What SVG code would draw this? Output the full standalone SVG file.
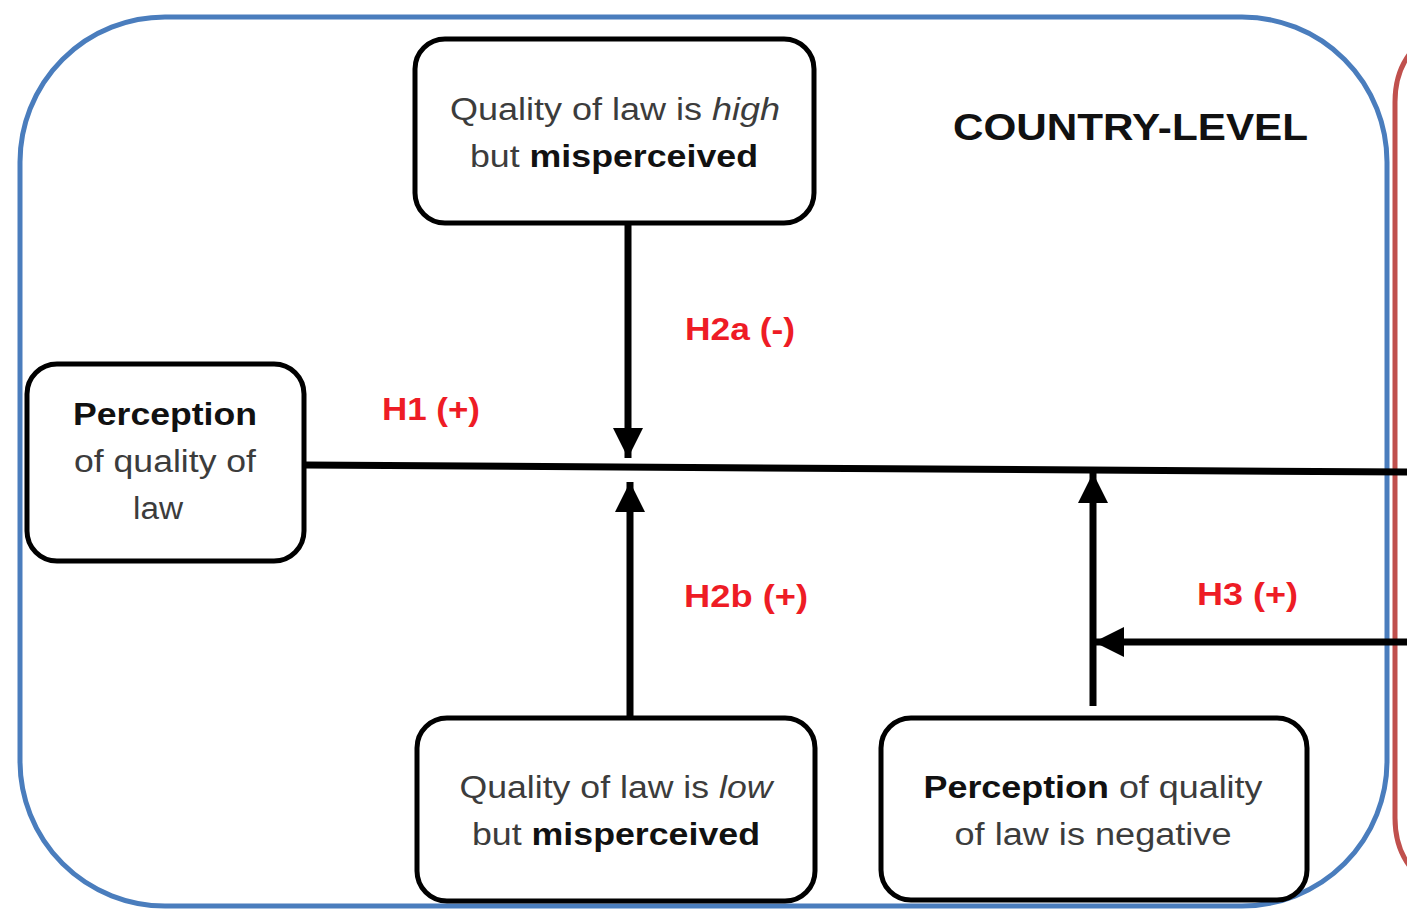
<svg xmlns="http://www.w3.org/2000/svg" width="1407" height="909" viewBox="0 0 1407 909">
<style>
.frame-blue{fill:none;stroke:#4a7dbd;stroke-width:5}
.frame-red{fill:none;stroke:#c0504d;stroke-width:5}
.box{fill:#fff;stroke:#000;stroke-width:5}
.t{font-family:"Liberation Sans",Arial,sans-serif;font-size:31px;fill:#3c3c3c;text-anchor:middle}
.b{font-weight:bold;fill:#111}
.i{font-style:italic}
.lab{font-family:"Liberation Sans",Arial,sans-serif;font-size:32px;font-weight:bold;fill:#ee1c25}
.title{font-family:"Liberation Sans",Arial,sans-serif;font-size:37px;font-weight:bold;fill:#111}
.con{fill:none;stroke:#000;stroke-width:7}
</style>
<defs>
<marker id="ah" markerUnits="userSpaceOnUse" markerWidth="30" markerHeight="30" viewBox="0 0 30 30" refX="30" refY="15" orient="auto">
<path d="M0,0 L30,15 L0,30 Z" fill="#000"/>
</marker>
</defs>
<rect width="1407" height="909" fill="#fff"/>
<rect id="country-frame" class="frame-blue" x="20" y="17" width="1367" height="889" rx="145" ry="145"/>
<rect id="individual-frame" class="frame-red" x="1395" y="40" width="80" height="840" rx="62" ry="62"/>
<g id="connectors">
<line class="con" x1="305" y1="465" x2="1407" y2="472"/>
<line class="con" x1="628" y1="223" x2="628" y2="458" marker-end="url(#ah)"/>
<line class="con" x1="630" y1="717" x2="630" y2="482" marker-end="url(#ah)"/>
<line class="con" x1="1093" y1="706" x2="1093" y2="473" marker-end="url(#ah)"/>
<line class="con" x1="1407" y1="642" x2="1094" y2="642" marker-end="url(#ah)"/>
</g>
<g id="node-perception">
<rect class="box" x="27" y="364" width="277" height="197" rx="30" ry="30"/>
<text class="t b" x="165" y="425" textLength="184" lengthAdjust="spacingAndGlyphs">Perception</text>
<text class="t" x="165" y="472" textLength="182" lengthAdjust="spacingAndGlyphs">of quality of</text>
<text class="t" x="158" y="519" textLength="50" lengthAdjust="spacingAndGlyphs">law</text>
</g>
<g id="node-high">
<rect class="box" x="415" y="39" width="399" height="184" rx="30" ry="30"/>
<text class="t" x="615" y="120" textLength="330" lengthAdjust="spacingAndGlyphs">Quality of law is <tspan class="i">high</tspan></text>
<text class="t" x="614" y="167" textLength="288" lengthAdjust="spacingAndGlyphs">but <tspan class="b">misperceived</tspan></text>
</g>
<g id="node-low">
<rect class="box" x="417" y="718" width="398" height="183" rx="30" ry="30"/>
<text class="t" x="616" y="798" textLength="313" lengthAdjust="spacingAndGlyphs">Quality of law is <tspan class="i">low</tspan></text>
<text class="t" x="616" y="845" textLength="288" lengthAdjust="spacingAndGlyphs">but <tspan class="b">misperceived</tspan></text>
</g>
<g id="node-negative">
<rect class="box" x="881" y="718" width="426" height="182" rx="30" ry="30"/>
<text class="t" x="1093" y="798" textLength="339" lengthAdjust="spacingAndGlyphs"><tspan class="b">Perception</tspan> of quality</text>
<text class="t" x="1093" y="845" textLength="277" lengthAdjust="spacingAndGlyphs">of law is negative</text>
</g>
<g id="labels">
<text class="title" x="953" y="140" textLength="355" lengthAdjust="spacingAndGlyphs">COUNTRY-LEVEL</text>
<text class="lab" x="382" y="420" textLength="98" lengthAdjust="spacingAndGlyphs">H1 (+)</text>
<text class="lab" x="685" y="340" textLength="110" lengthAdjust="spacingAndGlyphs">H2a (-)</text>
<text class="lab" x="684" y="607" textLength="124" lengthAdjust="spacingAndGlyphs">H2b (+)</text>
<text class="lab" x="1197" y="605" textLength="101" lengthAdjust="spacingAndGlyphs">H3 (+)</text>
</g>
</svg>
